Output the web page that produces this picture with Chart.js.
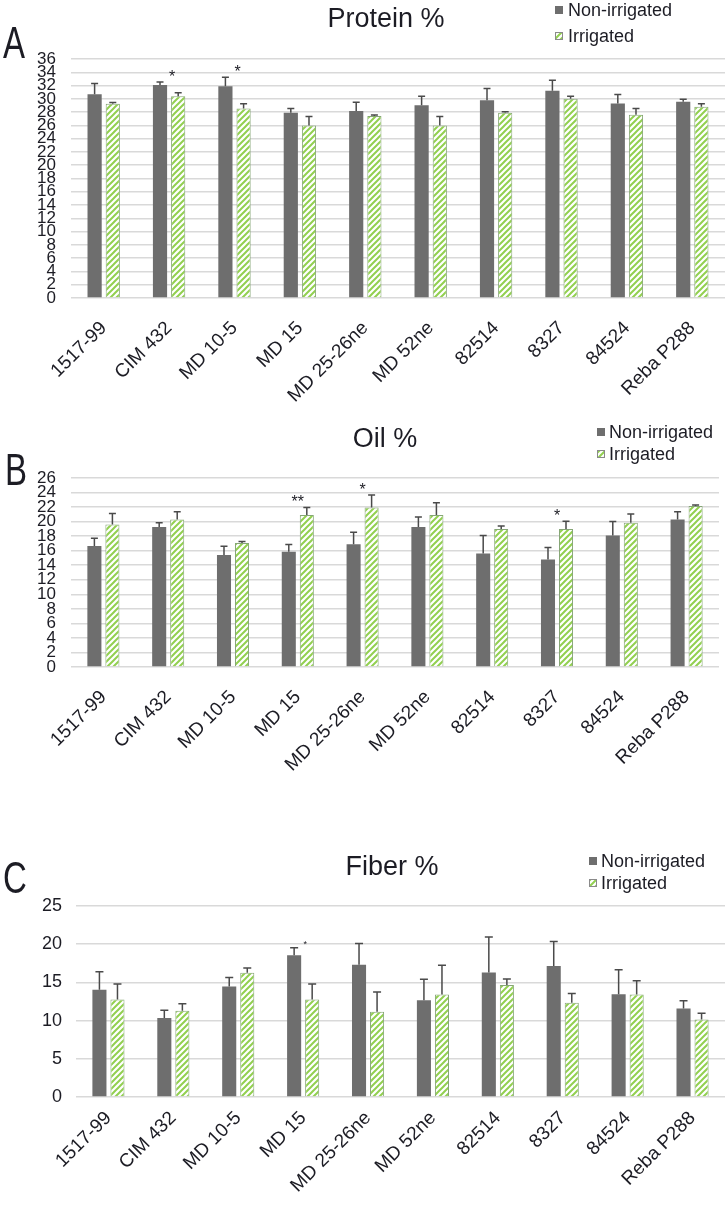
<!DOCTYPE html>
<html>
<head>
<meta charset="utf-8">
<script src="https://cdn.jsdelivr.net/npm/chart.js@4.4.0/dist/chart.umd.min.js"></script>
<style>
  body { margin: 0; background: #fff; width: 727px; height: 1205px; position: relative; overflow: hidden; }
  canvas { position: absolute; left: 0; }
</style>
</head>
<body>
<canvas id="proteinChart" width="727" height="420" style="top:0px"></canvas>
<canvas id="oilChart" width="727" height="420" style="top:420px"></canvas>
<canvas id="fiberChart" width="727" height="365" style="top:840px"></canvas>
<script>
// genotypes on the x axis
const genotypes = ['1517-99', 'CIM 432', 'MD 10-5', 'MD 15', 'MD 25-26ne', 'MD 52ne', '82514', '8327', '84524', 'Reba P288'];
const seriesNames = ['Non-irrigated', 'Irrigated'];

// Protein %
const proteinNon = [30.7, 32.1, 31.9, 27.9, 28.15, 29.05, 29.8, 31.2, 29.3, 29.55];
const proteinNonErr = [1.6, 0.45, 1.35, 0.65, 1.35, 1.35, 1.75, 1.6, 1.35, 0.4];
const proteinIrr = [29.25, 30.4, 28.55, 26.0, 27.4, 26.0, 27.9, 30.0, 27.6, 28.8];
const proteinIrrErr = [0.2, 0.5, 0.7, 1.35, 0.15, 1.35, 0.15, 0.4, 0.95, 0.45];
const proteinSig = ['', '*', '*', '', '', '', '', '', '', ''];

// Oil %
const oilNon = [16.65, 19.25, 15.4, 15.85, 16.9, 19.25, 15.6, 14.8, 18.1, 20.3];
const oilNonErr = [1.05, 0.6, 1.2, 1.0, 1.65, 1.4, 2.5, 1.65, 1.9, 1.05];
const oilIrr = [19.6, 20.3, 17.05, 20.9, 21.95, 20.9, 19.0, 19.0, 19.85, 22.15];
const oilIrrErr = [1.5, 1.05, 0.2, 1.05, 1.7, 1.7, 0.4, 1.05, 1.2, 0.15];
const oilSig = ['', '', '', '**', '*', '', '', '*', '', ''];

// Fiber %
const fiberNon = [14.05, 10.35, 14.45, 18.55, 17.3, 12.65, 16.3, 17.15, 13.45, 11.6];
const fiberNonErr = [2.35, 1.0, 1.2, 1.0, 2.8, 2.75, 4.65, 3.2, 3.2, 1.0];
const fiberIrr = [12.75, 11.3, 16.25, 12.75, 11.15, 13.4, 14.65, 12.35, 13.4, 10.15];
const fiberIrrErr = [2.05, 0.9, 0.65, 2.05, 2.6, 3.85, 0.8, 1.2, 1.8, 0.8];
const fiberSig = ['', '', '', '*', '', '', '', '', '', ''];

const FONT = '"Liberation Sans", Arial, sans-serif';
const TEXT = '#1c1c24';
const DARK = '#6e6e6e';
const GREEN_EDGE = '#86a676';

function hatch() {
	const c = document.createElement('canvas');
	c.width = 6; c.height = 6;
	const g = c.getContext('2d');
	g.fillStyle = '#fff';
	g.fillRect(0, 0, 6, 6);
	g.strokeStyle = '#92d050';
	g.lineWidth = 2;
	g.beginPath();
	g.moveTo(-1, 7); g.lineTo(7, -1);
	g.moveTo(-4, 4); g.lineTo(4, -4);
	g.moveTo(2, 10); g.lineTo(10, 2);
	g.stroke();
	return g.createPattern(c, 'repeat');
}
const stripes = hatch();

// error bars, asterisks, panel letter, title and legend
function decoPlugin(d) {
	return {
		id: 'deco',
		afterDatasetsDraw(chart) {
			const ctx = chart.ctx;
			const ys = chart.scales.y;
			ctx.save();
			ctx.strokeStyle = '#4a4a4a';
			ctx.lineWidth = 1.5;
			chart.data.datasets.forEach((ds, i) => {
				chart.getDatasetMeta(i).data.forEach((bar, j) => {
					const top = ys.getPixelForValue(ds.data[j] + ds.errors[j]);
					ctx.beginPath();
					ctx.moveTo(bar.x, bar.y);
					ctx.lineTo(bar.x, top);
					ctx.moveTo(bar.x - d.cap / 2, top);
					ctx.lineTo(bar.x + d.cap / 2, top);
					ctx.stroke();
				});
			});
			ctx.fillStyle = TEXT;
			ctx.textAlign = 'center';
			ctx.textBaseline = 'alphabetic';
			ctx.font = d.sigFont + 'px ' + FONT;
			d.sig.forEach((s, j) => {
				if (!s) return;
				const tops = chart.data.datasets.map(ds => ys.getPixelForValue(ds.data[j] + ds.errors[j]));
				const x = chart.scales.x.getPixelForValue(j) + d.sigDx;
				ctx.fillText(s, x, Math.min(...tops) - d.sigGap);
			});
			ctx.restore();
		},
		afterDraw(chart) {
			const ctx = chart.ctx;
			ctx.save();
			ctx.fillStyle = TEXT;
			// panel letter
			ctx.save();
			ctx.translate(d.letterX, d.letterY);
			ctx.scale(0.75, 1);
			ctx.font = '44px ' + FONT;
			ctx.textAlign = 'left';
			ctx.textBaseline = 'alphabetic';
			ctx.fillText(d.letter, 0, 0);
			ctx.restore();
			// title
			ctx.font = '27px ' + FONT;
			ctx.textAlign = 'center';
			ctx.textBaseline = 'alphabetic';
			ctx.fillText(d.title, d.titleX, d.titleY);
			// legend
			ctx.font = '18px ' + FONT;
			ctx.textAlign = 'left';
			seriesNames.forEach((name, i) => {
				const b = d.legend.rows[i];
				const top = b - 10;
				if (i === 0) {
					ctx.fillStyle = DARK;
					ctx.fillRect(d.legend.x, top, 8, 8);
				} else {
					ctx.fillStyle = stripes;
					ctx.fillRect(d.legend.x, top, 8, 8);
					ctx.strokeStyle = '#8a8a8a';
					ctx.lineWidth = 1;
					ctx.strokeRect(d.legend.x + 0.5, top + 0.5, 7, 7);
				}
				ctx.fillStyle = TEXT;
				ctx.fillText(name, d.legend.textX, b);
			});
			ctx.restore();
		}
	};
}

function makeChart(id, non, nonErr, irr, irrErr, d) {
	const config = {
		type: 'bar',
		data: {
			labels: genotypes,
			datasets: [{
				label: seriesNames[0],
				data: non,
				errors: nonErr,
				backgroundColor: DARK,
				borderWidth: 0
			}, {
				label: seriesNames[1],
				data: irr,
				errors: irrErr,
				backgroundColor: stripes,
				borderColor: GREEN_EDGE,
				borderWidth: 1
			}]
		},
		plugins: [decoPlugin(d)],
		options: {
			responsive: false,
			animation: false,
			devicePixelRatio: 1,
			categoryPercentage: 0.556,
			barPercentage: 0.78,
			layout: { padding: { top: d.top, left: 0, right: d.right, bottom: 0 } },
			plugins: {
				legend: { display: false },
				tooltip: { enabled: false }
			},
			scales: {
				x: {
					grid: { display: false },
					border: { display: false },
					ticks: {
						color: TEXT,
						font: { family: FONT, size: 19 },
						minRotation: 45,
						maxRotation: 45,
						autoSkip: false,
						padding: d.xPad
					},
					afterFit: (s) => { s.height = d.xHeight; }
				},
				y: {
					min: 0,
					max: d.max,
					grid: { color: '#d9d9d9', lineWidth: 1.5, drawTicks: false },
					border: { display: false },
					ticks: {
						stepSize: d.step,
						autoSkip: false,
						color: TEXT,
						font: { family: FONT, size: d.yFont },
						padding: d.yPad
					},
					afterFit: (s) => { s.width = d.yWidth; }
				}
			}
		}
	};
	return new Chart(document.getElementById(id).getContext('2d'), config);
}

makeChart('proteinChart', proteinNon, proteinNonErr, proteinIrr, proteinIrrErr, {
	top: 59, right: 2, yWidth: 71, yPad: 15, xHeight: 122, xPad: 11,
	max: 36, step: 2, yFont: 17,
	cap: 7, sig: proteinSig, sigFont: 16, sigGap: 0, sigDx: 3,
	letter: 'A', letterX: 3, letterY: 58,
	title: 'Protein %', titleX: 386, titleY: 27,
	legend: { x: 555, textX: 568, rows: [16, 42] }
});

makeChart('oilChart', oilNon, oilNonErr, oilIrr, oilIrrErr, {
	top: 58, right: 8, yWidth: 71, yPad: 15, xHeight: 173, xPad: 11,
	max: 26, step: 2, yFont: 17,
	cap: 7, sig: oilSig, sigFont: 16, sigGap: 0, sigDx: 0,
	letter: 'B', letterX: 5, letterY: 65,
	title: 'Oil %', titleX: 385, titleY: 27,
	legend: { x: 597, textX: 609, rows: [18, 40] }
});

makeChart('fiberChart', fiberNon, fiberNonErr, fiberIrr, fiberIrrErr, {
	top: 66, right: 2, yWidth: 76, yPad: 14, xHeight: 108, xPad: 2,
	max: 25, step: 5, yFont: 18,
	cap: 8, sig: fiberSig, sigFont: 9, sigGap: 1, sigDx: 2,
	letter: 'C', letterX: 3, letterY: 53,
	title: 'Fiber %', titleX: 392, titleY: 35,
	legend: { x: 589, textX: 601, rows: [27, 49] }
});
</script>
</body>
</html>
